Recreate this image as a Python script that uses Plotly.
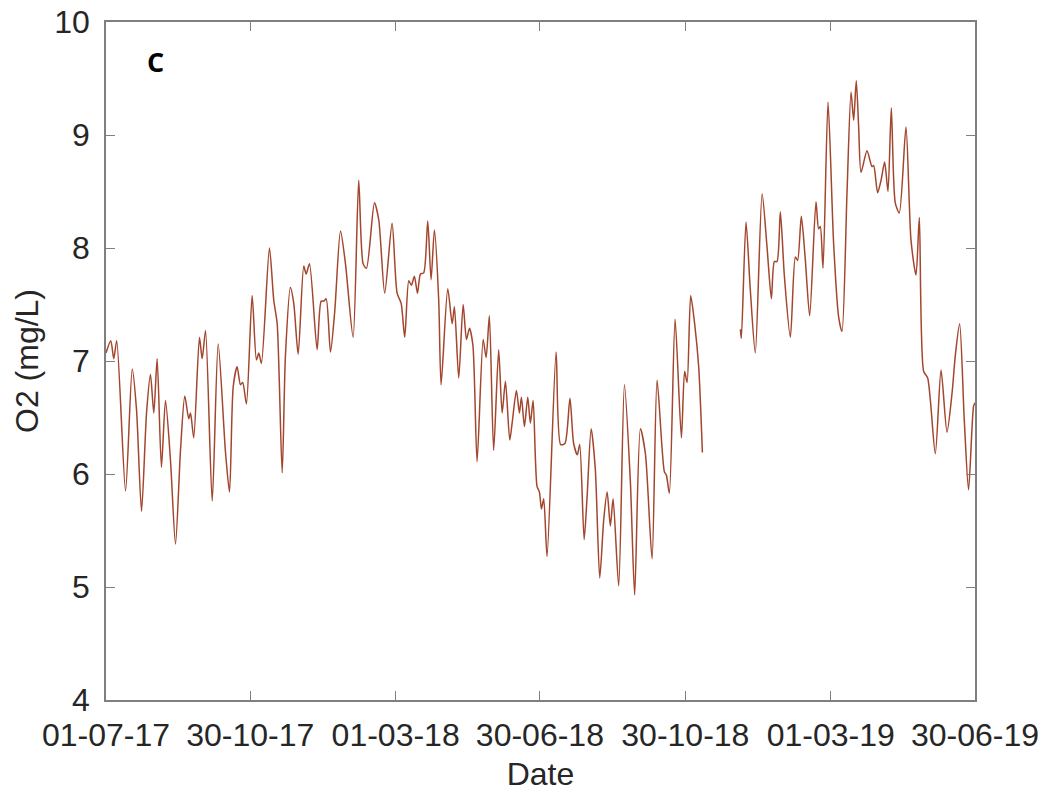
import pandas as pd
import plotly.graph_objects as go

START = pd.Timestamp("2017-07-01")

# Dissolved oxygen record, first deployment (days since 01-07-2017, mg/L)
seg1_day = [0, 4, 6.5, 9, 16.4, 22.0, 25.6, 29.8, 34.0, 37.3, 40.1, 42.9, 46.5, 49.9,
            54.1, 58.3, 62.5, 66.1, 69.4, 70.9, 73.6, 78.4, 80.7, 83.5, 89.1, 94.1,
            100.2, 103.6, 106.7, 110.0, 112.8, 114.7, 117.8, 122.6, 126.2, 128.2, 130.4,
            137.1, 140.7, 143.6, 147.8, 150.5, 154.7, 157.5, 161.2, 165.9, 167.9, 170.7,
            177.1, 180.5, 182.7, 184.7, 188.3, 191.9, 196.7, 200.9, 207.3, 212.0, 215.7,
            218.5, 225.2, 228.8, 233.8, 240.0, 244.2, 247.6, 250.6, 254.0, 256.2, 258.7,
            261.3, 263.8, 266.5, 269.9, 272.7, 275.5, 279.1, 281.1, 286.7, 290.4, 292.3,
            295.9, 299.6, 302.4, 304.9, 307.8, 311.3, 316.4, 318.9, 321.6, 325.2, 329.4,
            332.3, 335.1, 338.7, 340.7, 344.3, 346.8, 348.5, 351.0, 353.8, 356.0, 358.3,
            361.6, 363.6, 365.3, 367.2, 370.0, 377.6, 381.4, 385.0, 389.2, 392.3, 395.4,
            397.4, 401.1, 403.6, 407.0, 410.5, 414.2, 417.5, 420.4, 423.1, 425.4, 430.1,
            434.9, 439.9, 443.5, 448.3, 452.5, 458.1, 462.3, 468.4, 470.1, 472.6, 477.4,
            482.7, 485.4, 487.5, 490.5, 493.8, 497.2, 500.3]
seg1_o2 = [7.07, 7.18, 7.02, 7.18, 5.85, 6.93, 6.57, 5.67, 6.54, 6.88, 6.54, 7.02, 6.06, 6.65,
           6.12, 5.38, 6.21, 6.69, 6.49, 6.54, 6.32, 7.21, 7.02, 7.27, 5.76, 7.15,
           6.20, 5.84, 6.77, 6.95, 6.79, 6.81, 6.62, 7.58, 7.01, 7.07, 6.98,
           8.00, 7.54, 7.33, 6.01, 7.04, 7.65, 7.51, 7.06, 7.84, 7.77, 7.86,
           7.10, 7.53, 7.53, 7.55, 7.08, 7.44, 8.15, 7.86, 7.21, 8.60, 7.86,
           7.82, 8.40, 8.25, 7.60, 8.22, 7.60, 7.51, 7.21, 7.71, 7.67, 7.75,
           7.60, 7.77, 7.78, 8.24, 7.72, 8.16, 7.54, 6.79, 7.64, 7.33, 7.48,
           6.85, 7.50, 7.19, 7.29, 7.14, 6.11, 7.19, 7.03, 7.40, 6.21, 7.10,
           6.54, 6.82, 6.30, 6.45, 6.74, 6.54, 6.68, 6.42, 6.68, 6.45, 6.65,
           5.89, 5.84, 5.69, 5.78, 5.27, 7.08, 6.26, 6.27, 6.67, 6.27, 6.17,
           6.26, 5.42, 5.80, 6.40, 6.04, 5.08, 5.59, 5.84, 5.54, 5.78, 5.01,
           6.79, 5.93, 4.93, 6.40, 6.18, 5.25, 6.83, 6.02, 5.99, 5.83, 7.37,
           6.32, 6.91, 6.81, 7.58, 7.33, 6.95, 6.19]

# Second deployment
seg2_day = [532.2, 533.0, 536.9, 540.5, 544.7, 550.4, 554.6, 558.2, 560.7, 562.9, 565.7,
            569.1, 574.1, 578.3, 580.2, 583.3, 586.7, 590.3, 595.6, 597.8, 599.2, 601.5,
            605.7, 610.4, 614.6, 617.4, 621.6, 625.0, 627.2, 629.4, 631.4, 633.4, 638.4,
            642.6, 644.0, 647.3, 650.2, 653.2, 656.0, 658.8, 662.1, 665.5, 671.1, 675.3,
            679.5, 682.3, 685.9, 689.3, 695.7, 700.5, 705.5, 709.7, 712.5, 716.1, 720.0,
            723.6, 727.8, 729]
seg2_o2 = [7.28, 7.20, 8.23, 7.63, 7.07, 8.48, 8.00, 7.55, 7.88, 7.88, 8.32,
           7.75, 7.21, 7.92, 7.89, 8.28, 7.89, 7.40, 8.41, 8.17, 8.19, 7.82,
           9.29, 8.04, 7.39, 7.26, 8.48, 9.38, 9.13, 9.48, 9.07, 8.67, 8.86,
           8.72, 8.73, 8.49, 8.60, 8.76, 8.50, 9.24, 8.40, 8.31, 9.07, 8.07,
           7.76, 8.27, 6.91, 6.85, 6.18, 6.92, 6.37, 6.71, 7.05, 7.33, 6.48,
           5.86, 6.60, 6.63]

tick_dates = ["2017-07-01", "2017-10-30", "2018-03-01", "2018-06-30",
              "2018-10-30", "2019-03-01", "2019-06-30"]
tick_text = ["01-07-17", "30-10-17", "01-03-18", "30-06-18",
             "30-10-18", "01-03-19", "30-06-19"]
y_ticks = [4, 5, 6, 7, 8, 9, 10]

days = seg1_day + [None] + seg2_day
dates = [None if d is None else START + pd.Timedelta(days=d) for d in days]
o2 = seg1_o2 + [None] + seg2_o2

FONT = "Liberation Sans, Arial, sans-serif"
TEXT_COLOR = "#262626"

fig = go.Figure()
fig.add_trace(go.Scatter(
    x=dates, y=o2, mode="lines",
    line=dict(color="#A3462E", width=1.5, shape="spline", smoothing=0.7),
    connectgaps=False, showlegend=False,
))

axis_common = dict(
    showline=True, linecolor="#7f7f7f", linewidth=1.5, mirror="ticks",
    ticks="inside", ticklen=9, tickcolor="#7f7f7f", tickwidth=1.2,
    showgrid=False, zeroline=False,
    tickfont=dict(family=FONT, size=32, color=TEXT_COLOR),
)

fig.update_xaxes(
    type="date", range=[tick_dates[0], tick_dates[-1]],
    tickvals=tick_dates, ticktext=tick_text, ticklabelstandoff=6,
    title=dict(text="Date", standoff=10, font=dict(family=FONT, size=32, color=TEXT_COLOR)),
    **axis_common,
)
fig.update_yaxes(
    range=[4, 10], tickvals=y_ticks, ticktext=[str(v) for v in y_ticks],
    ticklabelstandoff=8,
    title=dict(text="O2 (mg/L)", standoff=6, font=dict(family=FONT, size=32, color=TEXT_COLOR)),
    **axis_common,
)

# panel letter
fig.add_annotation(
    text="<b>C</b>", xref="paper", yref="paper", x=0.045, y=0.972,
    xanchor="left", yanchor="top", showarrow=False,
    font=dict(family="Open Sans, sans-serif", size=27, color="black"),
)

fig.update_layout(
    width=1047, height=799,
    margin=dict(l=106, r=72, t=22, b=99, autoexpand=False),
    plot_bgcolor="white", paper_bgcolor="white",
)

fig.write_html("out.html")
